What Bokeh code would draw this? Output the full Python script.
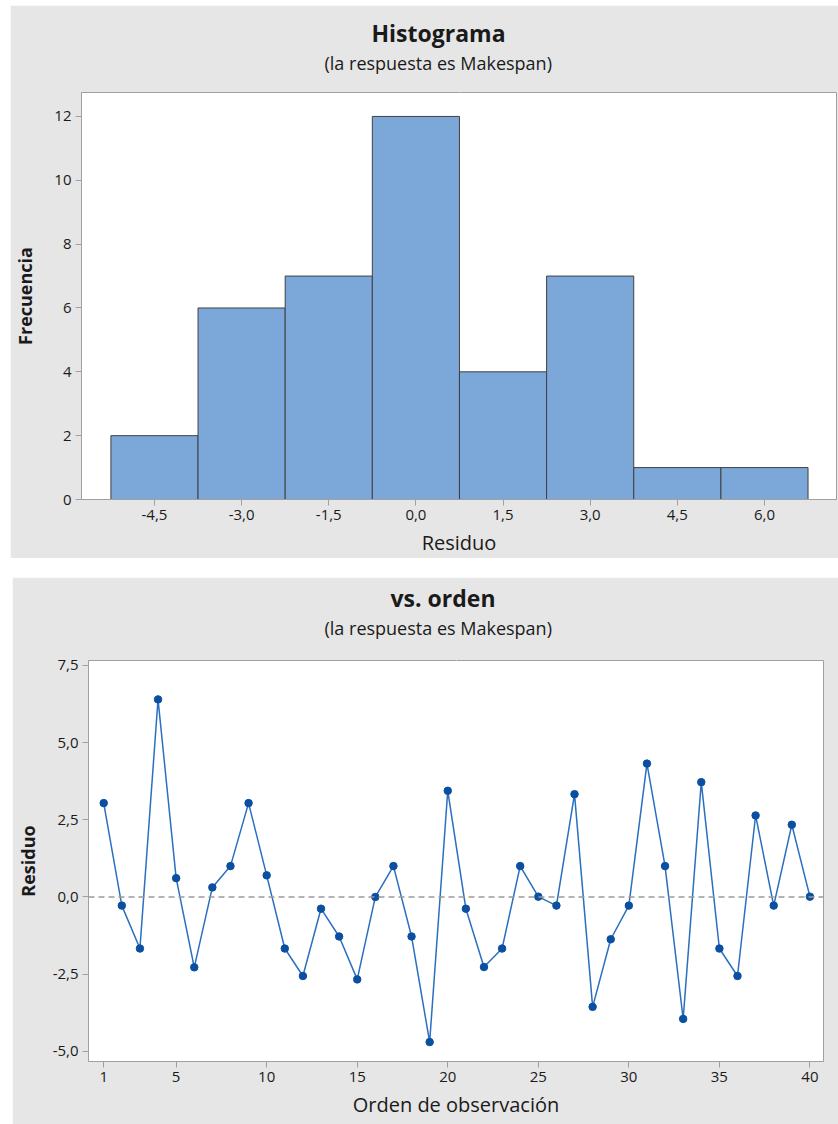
from bokeh.plotting import figure
from bokeh.models import (Range1d, FixedTicker, CustomJSTickFormatter, Span, Title,
                          LinearAxis, ColumnDataSource, Spacer)
from bokeh.layouts import column, row
from bokeh.embed import file_html
from bokeh.resources import INLINE

# ---------------- data ----------------
bin_left = [-5.25, -3.75, -2.25, -0.75, 0.75, 2.25, 3.75, 5.25]
bin_right = [-3.75, -2.25, -0.75, 0.75, 2.25, 3.75, 5.25, 6.75]
counts = [2, 6, 7, 12, 4, 7, 1, 1]
hist_ticks = [-4.5, -3.0, -1.5, 0.0, 1.5, 3.0, 4.5, 6.0]
freq_ticks = [0, 2, 4, 6, 8, 10, 12]

order = list(range(1, 41))
residuals = [3.04, -0.28, -1.67, 6.40, 0.61, -2.28, 0.31, 1.00, 3.04, 0.70,
             -1.67, -2.56, -0.38, -1.28, -2.67, 0.00, 1.00, -1.28, -4.70, 3.44,
             -0.38, -2.27, -1.67, 1.00, 0.01, -0.28, 3.33, -3.56, -1.37, -0.28,
             4.32, 1.00, -3.95, 3.72, -1.67, -2.56, 2.64, -0.28, 2.34, 0.01]
order_ticks = [1, 5, 10, 15, 20, 25, 30, 35, 40]
resid_ticks = [-5.0, -2.5, 0.0, 2.5, 5.0, 7.5]

FONT = "Open Sans"
BG = "#e6e6e6"
TXT = "#1a1a1a"


def comma_fmt():
    return CustomJSTickFormatter(code="return tick.toFixed(1).replace('.', ',');")


def style(p, xlabel, ylabel, title, subtitle, ylabel_standoff, gap, sub_standoff,
          title_off, sub_off):
    xb = p.below[0]
    yl = p.left[0]
    p.background_fill_color = "white"
    p.border_fill_color = BG
    p.outline_line_color = "#a0a0a0"
    p.xgrid.visible = False
    p.ygrid.visible = False
    for ax in (xb, yl):
        ax.axis_line_color = "#a0a0a0"
        ax.major_tick_line_color = "#a0a0a0"
        ax.major_tick_out = 6
        ax.major_tick_in = 0
        ax.minor_tick_line_color = None
        ax.major_label_text_font = FONT
        ax.major_label_text_font_size = "15px"
        ax.major_label_text_color = TXT
        ax.axis_label_text_font = FONT
        ax.axis_label_text_color = TXT
        ax.major_label_standoff = 4
    xb.axis_label = xlabel
    yl.axis_label = ylabel
    xb.axis_label_text_font_size = "20px"
    yl.axis_label_text_font_size = "18px"
    xb.axis_label_text_font_style = "normal"
    yl.axis_label_text_font_style = "bold"
    xb.axis_label_standoff = 6
    yl.axis_label_standoff = ylabel_standoff
    # spacer axis right above the frame: one tick drawn in the background
    # colour, so it only reserves vertical room for the titles
    mid = (p.x_range.start + p.x_range.end) / 2
    spacer = LinearAxis(ticker=FixedTicker(ticks=[mid], minor_ticks=[]),
                        axis_line_color=None,
                        major_tick_line_color=BG, minor_tick_line_color=None,
                        major_tick_out=gap, major_tick_in=0, minor_tick_out=0,
                        major_label_standoff=0, major_label_text_font_size="0px",
                        formatter=CustomJSTickFormatter(code="return '';"))
    p.add_layout(spacer, "above")
    # subtitle panel
    p.add_layout(Title(text=subtitle, align="left", offset=sub_off, text_font=FONT,
                       text_font_size="18px", text_font_style="normal",
                       text_color=TXT, standoff=sub_standoff), "above")
    # outermost: main title
    p.title.text = title
    p.title.align = "left"
    p.title.offset = title_off
    p.title.text_font = FONT
    p.title.text_font_size = "23px"
    p.title.text_font_style = "bold"
    p.title.text_color = TXT
    p.title.standoff = 0


# ---------------- histogram ----------------
p1 = figure(width=828, height=553, output_backend="svg", toolbar_location=None,
            x_range=Range1d(-5.756, 7.24), y_range=Range1d(0, 12.75),
            min_border_left=71, min_border_right=2, min_border_top=87,
            min_border_bottom=58)
src1 = ColumnDataSource(dict(left=bin_left, right=bin_right, top=counts))
p1.quad(left="left", right="right", top="top", bottom=0, source=src1,
        fill_color="#7ba7d9", line_color="#404040", line_width=1)
p1.below[0].ticker = FixedTicker(ticks=hist_ticks)
p1.below[0].formatter = comma_fmt()
p1.left[0].ticker = FixedTicker(ticks=freq_ticks)
style(p1, "Residuo", "Frecuencia", "Histograma", "(la respuesta es Makespan)", 14,
      18, 0, 290, 243)

# ---------------- versus order ----------------
p2 = figure(width=826, height=547, output_backend="svg", toolbar_location=None,
            x_range=Range1d(0.16, 40.75), y_range=Range1d(-5.33, 7.66),
            min_border_left=72, min_border_right=15, min_border_top=83,
            min_border_bottom=63)
p2.add_layout(Span(location=0, dimension="width", line_color="#9a9a9a",
                   line_dash="6 4", line_width=1.5))
src2 = ColumnDataSource(dict(x=order, y=residuals))
p2.line("x", "y", source=src2, line_color="#2a6fc0", line_width=1.5)
p2.scatter("x", "y", source=src2, size=7.5, fill_color="#0b4fa0",
           line_color="#0b4fa0")
p2.below[0].ticker = FixedTicker(ticks=order_ticks)
p2.left[0].ticker = FixedTicker(ticks=resid_ticks)
p2.left[0].formatter = comma_fmt()
style(p2, "Orden de observación", "Residuo", "vs. orden", "(la respuesta es Makespan)", 10,
      21, 0, 302, 236)

layout = column(
    Spacer(height=5),
    row(Spacer(width=10), p1),
    Spacer(height=19),
    row(Spacer(width=12), p2),
)
open("out.html", "w").write(file_html(layout, INLINE))
